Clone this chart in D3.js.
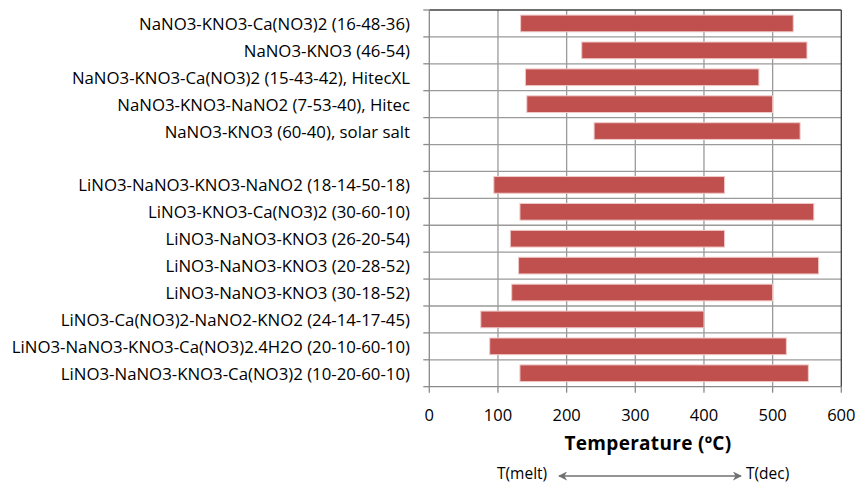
<!DOCTYPE html>
<html>
<head>
<meta charset="utf-8">
<script src="https://cdn.jsdelivr.net/npm/d3@7"></script>
<style>
  html, body { margin: 0; padding: 0; background: #fff; }
  svg { display: block; }
  text { font-family: "Open Sans", "Noto Sans", sans-serif; fill: #000; }
</style>
</head>
<body>
<svg id="chart" width="859" height="483"></svg>
<script>
// ---- data (top to bottom) ----
const categories = [
  "NaNO3-KNO3-Ca(NO3)2 (16-48-36)",
  "NaNO3-KNO3 (46-54)",
  "NaNO3-KNO3-Ca(NO3)2 (15-43-42), HitecXL",
  "NaNO3-KNO3-NaNO2 (7-53-40), Hitec",
  "NaNO3-KNO3 (60-40), solar salt",
  "",
  "LiNO3-NaNO3-KNO3-NaNO2 (18-14-50-18)",
  "LiNO3-KNO3-Ca(NO3)2 (30-60-10)",
  "LiNO3-NaNO3-KNO3 (26-20-54)",
  "LiNO3-NaNO3-KNO3 (20-28-52)",
  "LiNO3-NaNO3-KNO3 (30-18-52)",
  "LiNO3-Ca(NO3)2-NaNO2-KNO2 (24-14-17-45)",
  "LiNO3-NaNO3-KNO3-Ca(NO3)2.4H2O (20-10-60-10)",
  "LiNO3-NaNO3-KNO3-Ca(NO3)2 (10-20-60-10)"
];
const tMelt = [133, 222, 140, 142, 240, null, 94, 132, 118, 130, 120, 75, 88, 132];
const tDec  = [530, 550, 480, 500, 540, null, 430, 560, 430, 567, 500, 400, 520, 552];
const xTicks = [0, 100, 200, 300, 400, 500, 600];

// ---- layout ----
const svg = d3.select("#chart");
const pLeft = 429.3, pRight = 841.3, pTop = 10, pBottom = 386.7;

const x = d3.scaleLinear().domain([0, 600]).range([pLeft, pRight]);
const y = d3.scaleBand().domain(d3.range(categories.length)).range([pTop, pBottom])
  .paddingInner(0.38).paddingOuter(0.19);
const step = (pBottom - pTop) / categories.length;

// vertical gridlines
svg.append("g").selectAll("line").data(xTicks.slice(1, -1)).join("line")
  .attr("x1", d => x(d)).attr("x2", d => x(d))
  .attr("y1", pTop).attr("y2", pBottom)
  .attr("stroke", "#9a9a9a").attr("stroke-width", 1.3);

// horizontal gridlines at band boundaries
const bounds = d3.range(1, categories.length);
svg.append("g").selectAll("line").data(bounds).join("line")
  .attr("x1", pLeft).attr("x2", pRight)
  .attr("y1", d => pTop + d * step).attr("y2", d => pTop + d * step)
  .attr("stroke", "#9a9a9a").attr("stroke-width", 1.3);

// left tick marks
svg.append("g").selectAll("line").data(d3.range(0, categories.length + 1)).join("line")
  .attr("x1", pLeft - 6).attr("x2", pLeft)
  .attr("y1", d => pTop + d * step).attr("y2", d => pTop + d * step)
  .attr("stroke", "#8a8a8a").attr("stroke-width", 1.3);

// bottom tick marks
svg.append("g").selectAll("line").data(xTicks).join("line")
  .attr("x1", d => x(d)).attr("x2", d => x(d))
  .attr("y1", pBottom).attr("y2", pBottom + 6)
  .attr("stroke", "#8a8a8a").attr("stroke-width", 1.3);

// borders
svg.append("line").attr("x1", pLeft).attr("x2", pRight).attr("y1", pTop).attr("y2", pTop)
  .attr("stroke", "#404040").attr("stroke-width", 1.3);
svg.append("line").attr("x1", pRight).attr("x2", pRight).attr("y1", pTop).attr("y2", pBottom)
  .attr("stroke", "#404040").attr("stroke-width", 1.3);
svg.append("line").attr("x1", pLeft).attr("x2", pLeft).attr("y1", pTop).attr("y2", pBottom)
  .attr("stroke", "#8a8a8a").attr("stroke-width", 1.3);
svg.append("line").attr("x1", pLeft).attr("x2", pRight).attr("y1", pBottom).attr("y2", pBottom)
  .attr("stroke", "#8a8a8a").attr("stroke-width", 1.3);

// bars
const rows = categories.map((c, i) => ({ i, c, m: tMelt[i], d: tDec[i] })).filter(r => r.m != null);
svg.append("g").selectAll("rect").data(rows).join("rect")
  .attr("x", r => x(r.m)).attr("width", r => x(r.d) - x(r.m))
  .attr("y", r => y(r.i)).attr("height", y.bandwidth())
  .attr("fill", "#C0504D").attr("stroke", "#efc9c8").attr("stroke-width", 1);

// category labels
svg.append("g").selectAll("text").data(categories).join("text")
  .attr("x", 410).attr("y", (d, i) => pTop + (i + 0.5) * step)
  .attr("text-anchor", "end").attr("dominant-baseline", "central")
  .style("font-size", "16.8px").text(d => d);

// x tick labels
svg.append("g").selectAll("text").data(xTicks).join("text")
  .attr("x", d => x(d)).attr("y", 414)
  .attr("text-anchor", "middle").attr("dominant-baseline", "central")
  .style("font-size", "16.5px").text(d => d);

// axis title
svg.append("text").attr("x", 648).attr("y", 443)
  .attr("text-anchor", "middle").attr("dominant-baseline", "central")
  .style("font-size", "19px").style("font-weight", "bold").style("letter-spacing", "0.3px")
  .text("Temperature (ºC)");

// arrow annotation
const defs = svg.append("defs");
defs.append("marker").attr("id", "ah").attr("viewBox", "0 0 10 10")
  .attr("refX", 9).attr("refY", 5).attr("markerWidth", 6).attr("markerHeight", 6)
  .attr("orient", "auto-start-reverse")
  .append("path").attr("d", "M0,0 L10,5 L0,10 L3,5 Z").attr("fill", "#707070");
svg.append("line").attr("x1", 559).attr("x2", 741).attr("y1", 476).attr("y2", 476)
  .attr("stroke", "#707070").attr("stroke-width", 1.5)
  .attr("marker-start", "url(#ah)").attr("marker-end", "url(#ah)");
svg.append("text").attr("x", 497).attr("y", 472.5).attr("dominant-baseline", "central")
  .style("font-size", "15.5px").text("T(melt)");
svg.append("text").attr("x", 746).attr("y", 473).attr("dominant-baseline", "central")
  .style("font-size", "15.5px").text("T(dec)");
</script>
</body>
</html>
